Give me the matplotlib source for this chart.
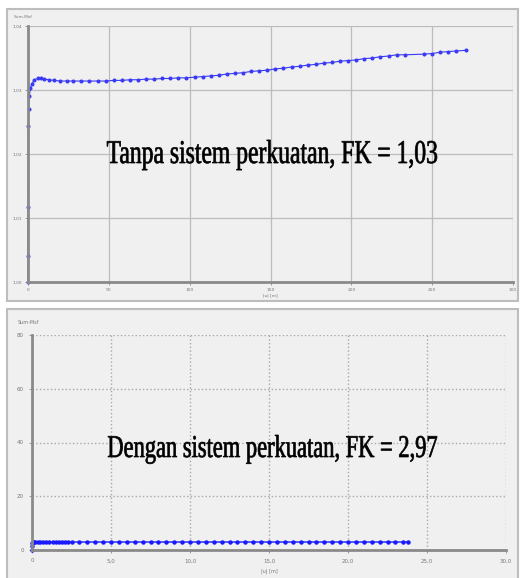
import matplotlib
matplotlib.use("Agg")
import matplotlib.pyplot as plt
from matplotlib.patches import Rectangle, PathPatch
from matplotlib.textpath import TextPath
from matplotlib.font_manager import FontProperties
from matplotlib.transforms import Affine2D

W, H = 520, 578

# top curve: Sum-Msf vs |u| (tanpa perkuatan)
top_u = [0, 0, 0.05, 0.2, 0.4, 0.8, 1.5, 2.5, 4, 6, 8, 10, 13, 16, 20, 24, 28,
         33, 38, 43, 48, 53, 58, 63, 68, 73, 78, 83, 88, 93, 98, 103, 108, 113, 118,
         123, 128, 133, 138, 143, 148, 153, 158, 163, 168, 173, 178, 183, 188, 193,
         198, 203, 208, 213, 218, 223, 228, 233, 245, 250, 255, 260, 265, 271]
top_msf = [1.000, 1.004, 1.0117, 1.0244, 1.027, 1.029, 1.0303, 1.031, 1.0316,
           1.0318, 1.0318, 1.0317, 1.0316, 1.0315, 1.0314, 1.0314, 1.0314, 1.0314,
           1.0314, 1.0314, 1.0314, 1.0315, 1.0315, 1.0316, 1.0316, 1.0317, 1.0317,
           1.0318, 1.0318, 1.0319, 1.0319, 1.0320, 1.0321, 1.0322, 1.0323, 1.0325,
           1.0326, 1.0327, 1.0329, 1.0330, 1.0331, 1.0333, 1.0334, 1.0336, 1.0337,
           1.0339, 1.0340, 1.0342, 1.0343, 1.0345, 1.0346, 1.0347, 1.0349, 1.0350,
           1.0352, 1.0353, 1.0355, 1.0355, 1.0356, 1.0357, 1.0359, 1.0360, 1.0361,
           1.0362]

# bottom curve: dengan perkuatan
bot_u = [0, 0, 0.02, 0.05, 0.1, 0.2, 0.35, 0.5, 0.7, 0.9, 1.1, 1.3, 1.5, 1.7, 1.9,
         2.1, 2.3, 2.5, 3.0, 3.5, 4.0, 4.5, 5.0, 5.5, 6.0, 6.5, 7.0, 7.5, 8.0, 8.5,
         9.0, 9.5, 10.0, 10.5, 11.0, 11.5, 12.0, 12.5, 13.0, 13.5, 14.0, 14.5, 15.0,
         15.5, 16.0, 16.5, 17.0, 17.5, 18.0, 18.5, 19.0, 19.5, 20.0, 20.5, 21.0,
         21.5, 22.0, 22.5, 23.0, 23.5, 23.8]
bot_msf = [0.0, 1.6, 2.6, 2.9, 2.95, 2.96, 2.97, 2.97, 2.97, 2.97, 2.97, 2.97, 2.97,
           2.97, 2.97, 2.97, 2.97, 2.97, 2.97, 2.97, 2.97, 2.97, 2.97, 2.97, 2.97,
           2.97, 2.97, 2.97, 2.97, 2.97, 2.97, 2.97, 2.97, 2.97, 2.97, 2.97, 2.97,
           2.97, 2.97, 2.97, 2.97, 2.97, 2.97, 2.97, 2.97, 2.97, 2.97, 2.97, 2.97,
           2.97, 2.97, 2.97, 2.97, 2.97, 2.97, 2.97, 2.97, 2.97, 2.97, 2.97, 2.97]

top_xticks = [0, 50, 100, 150, 200, 250, 300]
top_yticks = [1.00, 1.01, 1.02, 1.03, 1.04]
top_ylabels = ["1.00", "1.01", "1.02", "1.03", "1.04"]
bot_xticks = [0, 5, 10, 15, 20, 25, 30]
bot_xlabels = ["0", "5,0", "10,0", "15,0", "20,0", "25,0", "30,0"]
bot_yticks = [0, 20, 40, 60, 80]

BG = "#f0f0f0"
LINE = "#3a3af5"

fig = plt.figure(figsize=(W / 100, H / 100), dpi=100)
fig.patch.set_facecolor("white")


def px_axes(x0, y0, x1, y1):
    return fig.add_axes([x0 / W, 1 - y1 / H, (x1 - x0) / W, (y1 - y0) / H])


def frame(x0, y0, x1, y1):
    fig.patches.append(Rectangle((x0 / W, 1 - y1 / H), (x1 - x0) / W, (y1 - y0) / H,
                                 transform=fig.transFigure, facecolor=BG,
                                 edgecolor="#bdbdbd", lw=1.5, zorder=-5))


def stretched_text(s, x0, x1, baseline, cap):
    # the screenshot's caption is squeezed horizontally, so draw it as a scaled path
    tp = TextPath((0, 0), s, size=1, prop=FontProperties(family="Liberation Serif"))
    ext = tp.get_extents()
    sx = (x1 - x0) / ext.width
    sy = cap / 0.662
    tr = (Affine2D().translate(-ext.x0, 0).scale(sx / W, sy / H)
          .translate(x0 / W, 1 - baseline / H) + fig.transFigure)
    fig.add_artist(PathPatch(tp, transform=tr, facecolor="black", edgecolor="black",
                             lw=0.5, zorder=10))


def style(ax, ls):
    ax.set_facecolor(BG)
    for s in ("top", "right"):
        ax.spines[s].set_visible(False)
    for s in ("left", "bottom"):
        ax.spines[s].set_color("#8a8a8a")
        ax.spines[s].set_linewidth(2)
    ax.grid(True, color="#bcbcbc", lw=0.9, ls=ls)
    ax.tick_params(colors="#8a8a8a", length=2, width=0.6, labelcolor="#777777")
    ax.set_axisbelow(True)


frame(7, 9, 518, 301)
frame(7, 309, 518, 590)

# top panel
ax1 = px_axes(28, 26, 513, 282)
style(ax1, "-")
ax1.tick_params(labelsize=3.2, pad=2)
ax1.plot(top_u, top_msf, color=LINE, lw=0.8, marker="o", ms=1.9, mec=LINE, mfc=LINE,
         clip_on=False)
ax1.set_xlim(0, 300)
ax1.set_ylim(1.00, 1.04)
ax1.set_xticks(top_xticks)
ax1.set_yticks(top_yticks)
ax1.set_yticklabels(top_ylabels)
ax1.set_xlabel("|u| [m]", fontsize=3.2, color="#777777", labelpad=1)
stretched_text("Tanpa sistem perkuatan, FK = 1,03", 107, 437, 163, 22)
fig.text(14 / W, 1 - 17 / H, "Sum-Msf", fontsize=3.2, color="#777777", va="center")

# bottom panel
ax2 = px_axes(32, 335, 506, 550)
style(ax2, ":")
ax2.grid(True, color="#a8a8a8", lw=1.0, ls=":")
ax2.tick_params(labelsize=4, pad=4)
ax2.plot(bot_u, bot_msf, color="#1a1aff", lw=1.0, marker="o", ms=2.2, mec="#1a1aff",
         mfc="#1a1aff", clip_on=False)
ax2.set_xlim(0, 30)
ax2.set_ylim(0, 80)
ax2.set_xticks(bot_xticks)
ax2.set_xticklabels(bot_xlabels)
ax2.set_yticks(bot_yticks)
ax2.set_xlabel("|u| [m]", fontsize=3.5, color="#777777", labelpad=4)
stretched_text("Dengan sistem perkuatan, FK = 2,97", 108, 437, 457, 21)
fig.text(18 / W, 1 - 322 / H, "Sum-Msf", fontsize=3.5, color="#777777", va="center")

fig.savefig("out.png", dpi=100)
